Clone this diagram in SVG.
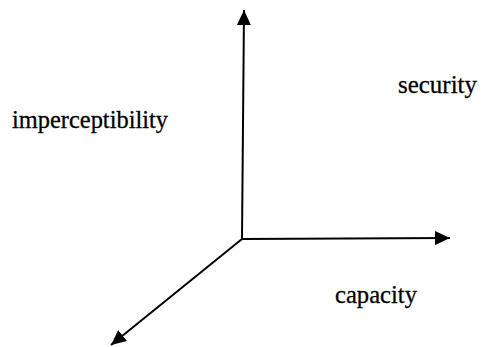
<svg xmlns="http://www.w3.org/2000/svg" width="481" height="347" viewBox="0 0 481 347">
<style>
.axis{stroke:#000;stroke-width:2;fill:none}
.lbl{font-family:'Liberation Serif','DejaVu Serif',serif;font-size:26px;fill:#000;stroke:#000;stroke-width:0.3}
</style>
<defs>
<marker id="ah" markerUnits="userSpaceOnUse" markerWidth="16" markerHeight="14" refX="15" refY="7" orient="auto">
<path d="M0,0 L15,7 L0,14 z" fill="#000"/>
</marker>
</defs>
<rect width="481" height="347" fill="#fff"/>
<g id="connectors">
<line class="axis" x1="242" y1="239" x2="244" y2="10" marker-end="url(#ah)"/>
<line class="axis" x1="242" y1="239" x2="450" y2="238" marker-end="url(#ah)"/>
<line class="axis" x1="242" y1="239" x2="111" y2="345" marker-end="url(#ah)"/>
</g>
<g id="imperceptibility"><text class="lbl" x="12" y="128" textLength="156" lengthAdjust="spacingAndGlyphs">imperceptibility</text></g>
<g id="security"><text class="lbl" x="398" y="93" textLength="79" lengthAdjust="spacingAndGlyphs">security</text></g>
<g id="capacity"><text class="lbl" x="335" y="303" textLength="82" lengthAdjust="spacingAndGlyphs">capacity</text></g>
</svg>
